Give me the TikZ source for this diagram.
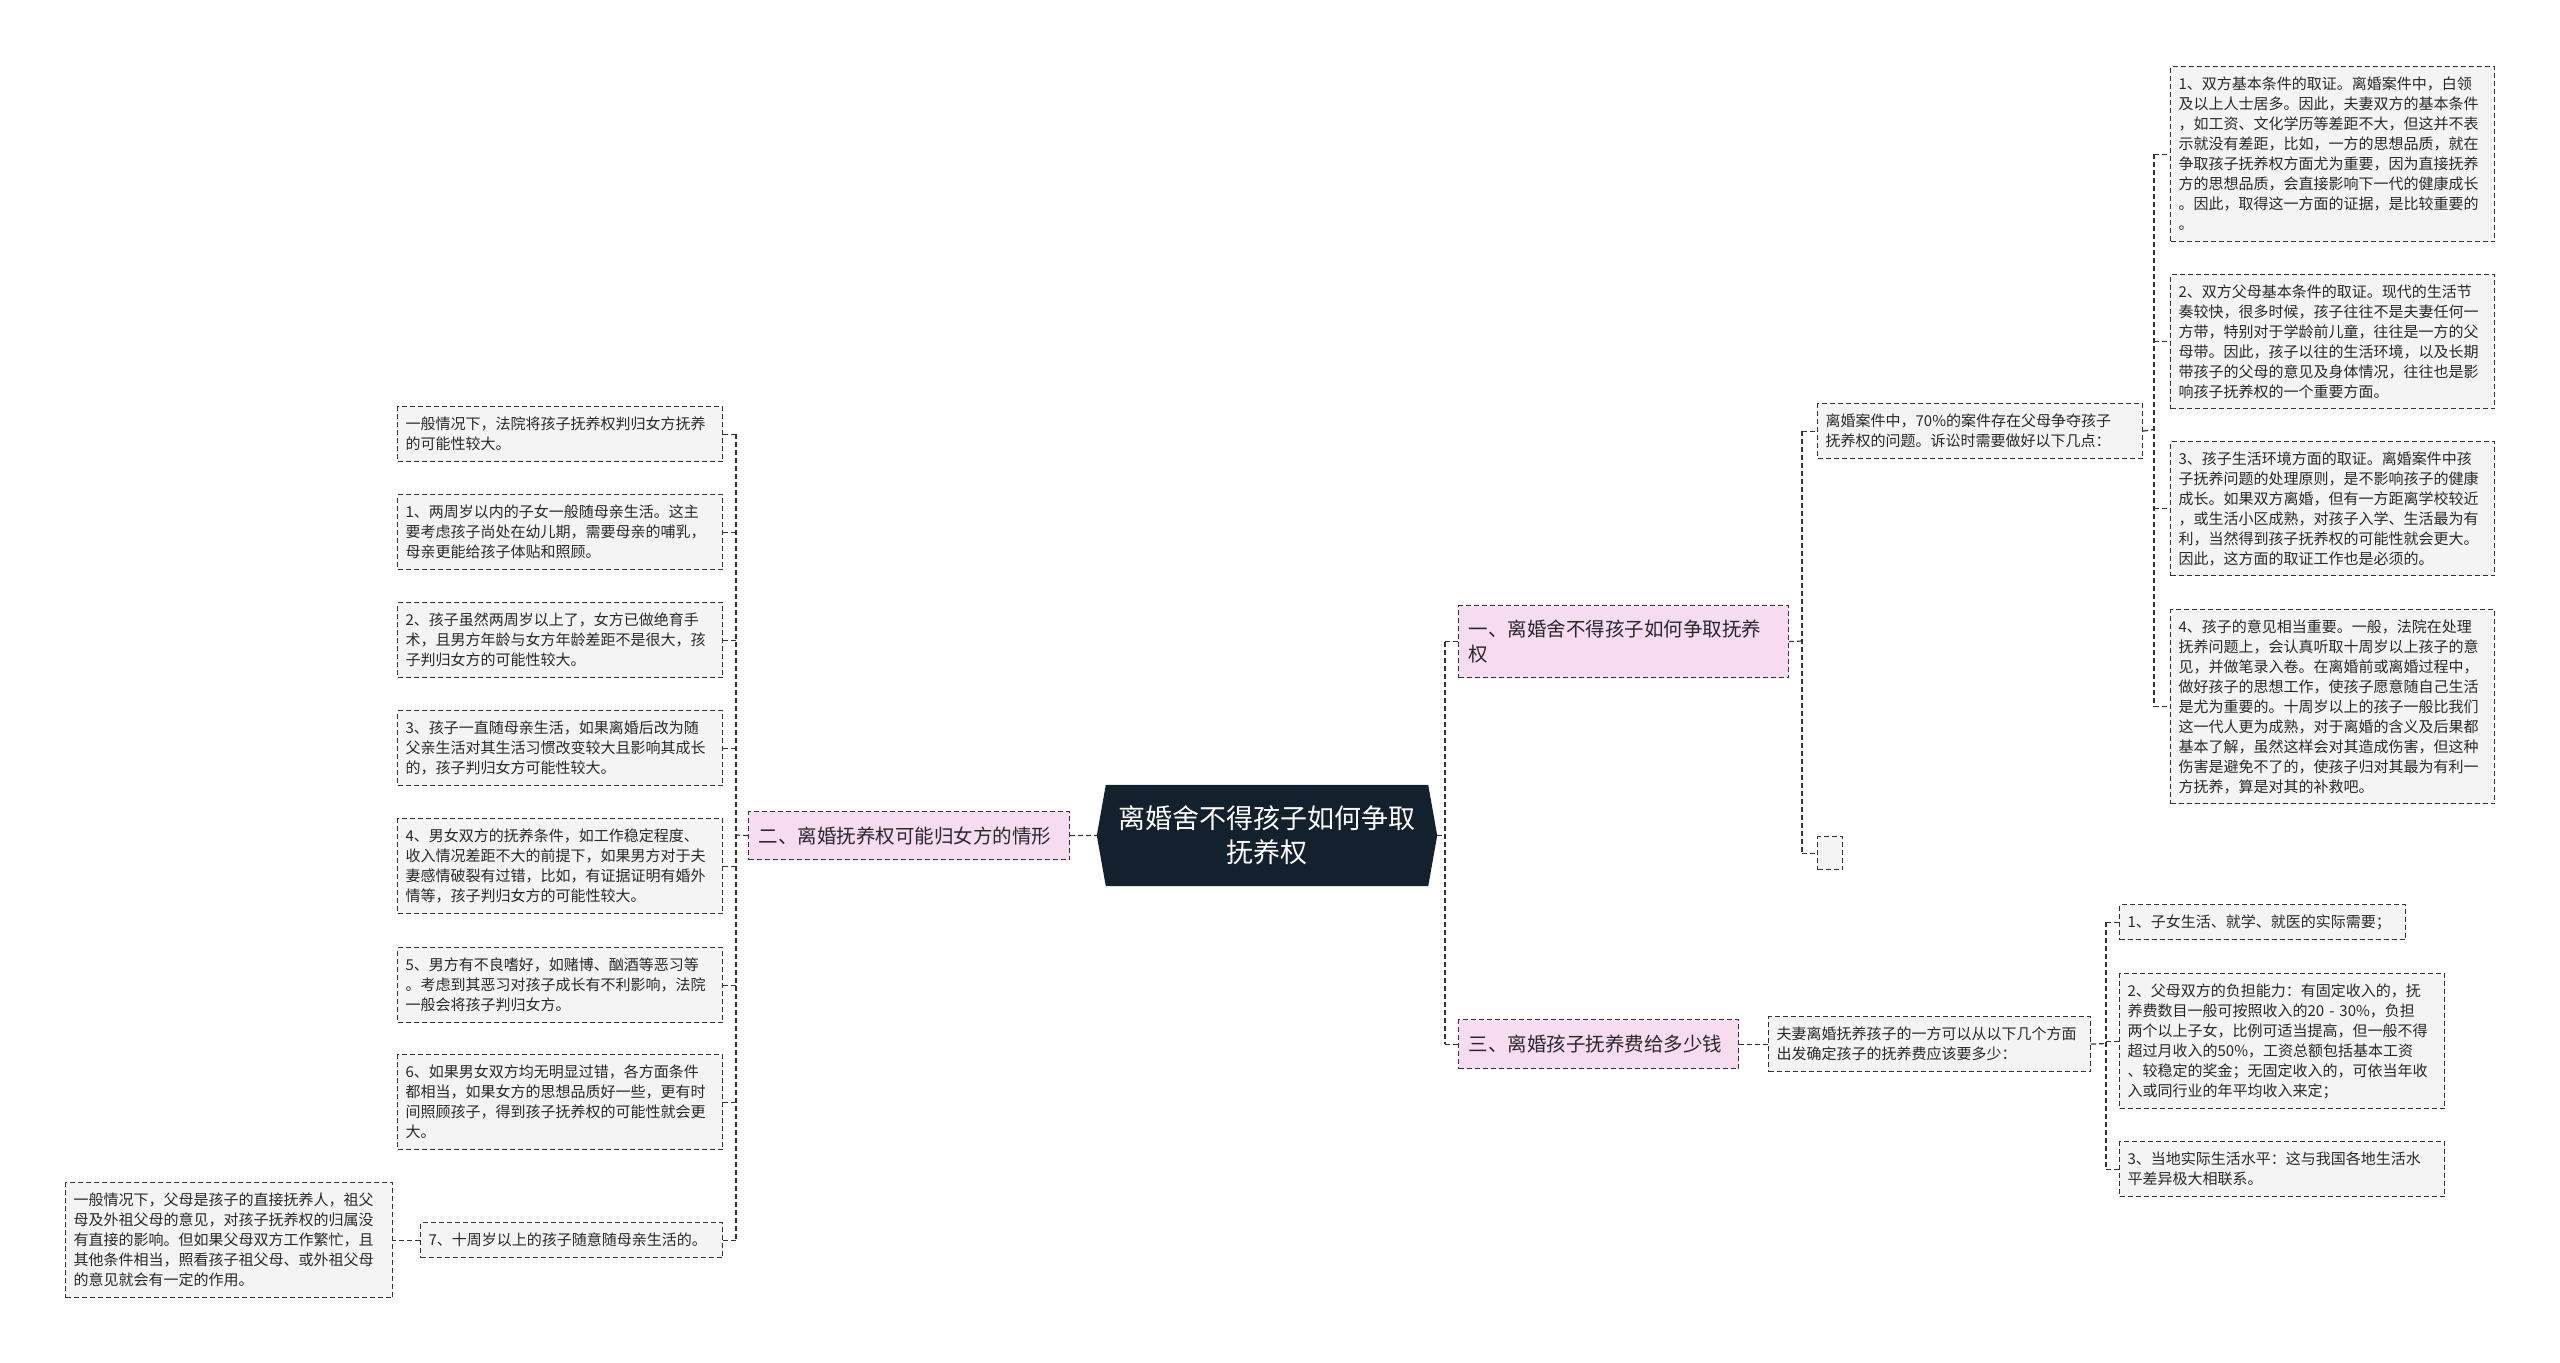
\documentclass[tikz,border=0pt]{standalone}
\usepackage{fontspec}
\setmainfont{Noto Sans CJK SC}
\usetikzlibrary{backgrounds,calc}
\definecolor{boxfill}{RGB}{244,244,244}
\definecolor{pinkfill}{RGB}{247,219,240}
\definecolor{darkc}{RGB}{19,32,46}
\definecolor{linec}{RGB}{51,51,51}
\definecolor{textc}{RGB}{40,40,40}
\begin{document}
\begin{tikzpicture}[x=1pt,y=-1pt,
  leaf/.style={draw=linec, fill=boxfill, dash pattern=on 5pt off 3pt, line width=1.2pt,
    anchor=north west, inner xsep=8pt, inner ysep=0pt, align=left,
    font=\fontsize{15}{20}\selectfont, text=textc},
  branch/.style={draw=linec, fill=pinkfill, dash pattern=on 5pt off 3pt, line width=1.2pt,
    anchor=north west, inner xsep=10pt, inner ysep=0pt, align=left,
    font=\fontsize{19.5}{25}\selectfont, text=textc},
  rootnode/.style={inner sep=0pt, minimum width=322pt, minimum height=101pt, align=center,
    font=\fontsize{27}{34}\selectfont, text=white},
  conn/.style={draw=linec, line width=1.2pt, dash pattern=on 5pt off 3pt}]
\useasboundingbox (0,0) rectangle (2560,1363);

% root
\node[rootnode] (root) at (1267,835.5) {离婚舍不得孩子如何争取\\抚养权};
\coordinate (rootL) at ($(root.west)+(-9,0)$);
\coordinate (rootR) at ($(root.east)+(9,0)$);

% branches
\node[branch, text width=301pt, minimum height=48pt] (b2) at (748,811) {二、离婚抚养权可能归女方的情形};
\node[branch, text width=310pt, minimum height=72pt] (b1) at (1458,605) {一、离婚舍不得孩子如何争取抚养\\权};
\node[branch, text width=260pt, minimum height=49pt] (b3) at (1458,1019) {三、离婚孩子抚养费给多少钱};

% left leaves
\node[leaf, text width=309pt, minimum height=55pt] (l1) at (397,406) {一般情况下，法院将孩子抚养权判归女方抚养\\的可能性较大。};
\node[leaf, text width=309pt, minimum height=75pt] (l2) at (397,494) {1、两周岁以内的子女一般随母亲生活。这主\\要考虑孩子尚处在幼儿期，需要母亲的哺乳，\\母亲更能给孩子体贴和照顾。};
\node[leaf, text width=309pt, minimum height=75pt] (l3) at (397,602) {2、孩子虽然两周岁以上了，女方已做绝育手\\术，且男方年龄与女方年龄差距不是很大，孩\\子判归女方的可能性较大。};
\node[leaf, text width=309pt, minimum height=75pt] (l4) at (397,710) {3、孩子一直随母亲生活，如果离婚后改为随\\父亲生活对其生活习惯改变较大且影响其成长\\的，孩子判归女方可能性较大。};
\node[leaf, text width=309pt, minimum height=95pt] (l5) at (397,818) {4、男女双方的抚养条件，如工作稳定程度、\\收入情况差距不大的前提下，如果男方对于夫\\妻感情破裂有过错，比如，有证据证明有婚外\\情等，孩子判归女方的可能性较大。};
\node[leaf, text width=309pt, minimum height=75pt] (l6) at (397,947) {5、男方有不良嗜好，如赌博、酗酒等恶习等\\。考虑到其恶习对孩子成长有不利影响，法院\\一般会将孩子判归女方。};
\node[leaf, text width=309pt, minimum height=95pt] (l7) at (397,1054) {6、如果男女双方均无明显过错，各方面条件\\都相当，如果女方的思想品质好一些，更有时\\间照顾孩子，得到孩子抚养权的可能性就会更\\大。};
\node[leaf, text width=286pt, minimum height=35pt] (l8) at (420,1222) {7、十周岁以上的孩子随意随母亲生活的。};
\node[leaf, text width=311pt, minimum height=115pt] (l8c) at (65,1182) {一般情况下，父母是孩子的直接抚养人，祖父\\母及外祖父母的意见，对孩子抚养权的归属没\\有直接的影响。但如果父母双方工作繁忙，且\\其他条件相当，照看孩子祖父母、或外祖父母\\的意见就会有一定的作用。};

% right: branch one
\node[leaf, text width=309pt, minimum height=55pt] (ca) at (1817,403) {离婚案件中，70\%的案件存在父母争夺孩子\\抚养权的问题。诉讼时需要做好以下几点：};
\node[leaf, minimum width=25pt, minimum height=33pt, inner xsep=0pt] (ce) at (1817,836) {};
\node[leaf, text width=308pt, minimum height=175pt] (a1) at (2170,66) {1、双方基本条件的取证。离婚案件中，白领\\及以上人士居多。因此，夫妻双方的基本条件\\，如工资、文化学历等差距不大，但这并不表\\示就没有差距，比如，一方的思想品质，就在\\争取孩子抚养权方面尤为重要，因为直接抚养\\方的思想品质，会直接影响下一代的健康成长\\。因此，取得这一方面的证据，是比较重要的\\。};
\node[leaf, text width=308pt, minimum height=134pt] (a2) at (2170,274) {2、双方父母基本条件的取证。现代的生活节\\奏较快，很多时候，孩子往往不是夫妻任何一\\方带，特别对于学龄前儿童，往往是一方的父\\母带。因此，孩子以往的生活环境，以及长期\\带孩子的父母的意见及身体情况，往往也是影\\响孩子抚养权的一个重要方面。};
\node[leaf, text width=308pt, minimum height=134pt] (a3) at (2170,441) {3、孩子生活环境方面的取证。离婚案件中孩\\子抚养问题的处理原则，是不影响孩子的健康\\成长。如果双方离婚，但有一方距离学校较近\\，或生活小区成熟，对孩子入学、生活最为有\\利，当然得到孩子抚养权的可能性就会更大。\\因此，这方面的取证工作也是必须的。};
\node[leaf, text width=308pt, minimum height=194pt] (a4) at (2170,609) {4、孩子的意见相当重要。一般，法院在处理\\抚养问题上，会认真听取十周岁以上孩子的意\\见，并做笔录入卷。在离婚前或离婚过程中，\\做好孩子的思想工作，使孩子愿意随自己生活\\是尤为重要的。十周岁以上的孩子一般比我们\\这一代人更为成熟，对于离婚的含义及后果都\\基本了解，虽然这样会对其造成伤害，但这种\\伤害是避免不了的，使孩子归对其最为有利一\\方抚养，算是对其的补救吧。};

% right: branch three
\node[leaf, text width=306pt, minimum height=55pt] (c0) at (1768,1016) {夫妻离婚抚养孩子的一方可以从以下几个方面\\出发确定孩子的抚养费应该要多少：};
\node[leaf, text width=270pt, minimum height=35pt] (c1) at (2119,904) {1、子女生活、就学、就医的实际需要；};
\node[leaf, text width=309pt, minimum height=135pt] (c2) at (2119,973) {2、父母双方的负担能力：有固定收入的，抚\\养费数目一般可按照收入的20 - 30\%，负担\\两个以上子女，比例可适当提高，但一般不得\\超过月收入的50\%，工资总额包括基本工资\\、较稳定的奖金；无固定收入的，可依当年收\\入或同行业的年平均收入来定；};
\node[leaf, text width=309pt, minimum height=55pt] (c3) at (2119,1141) {3、当地实际生活水平：这与我国各地生活水\\平差异极大相联系。};

% background layer: white page and root shape
\begin{scope}[on background layer]
  \fill[white] (0,0) rectangle (2560,1363);
  \fill[darkc] (root.north west) -- (root.north east) -- (rootR) -- (root.south east)
    -- (root.south west) -- (rootL) -- cycle;
\end{scope}

% spine coordinates
\coordinate (s0) at (1445,835.5);
\coordinate (s2) at (736,835);
\coordinate (s1) at (1802,641);
\coordinate (sa) at (2154,429.5);
\coordinate (sc) at (2106,1043.5);

% root connectors
\draw[conn] (b2.east) -- (rootL);
\draw[conn] (rootR) -- (s0);
\draw[conn] (s0 |- b1.west) -- (s0 |- b3.west);
\draw[conn] (s0 |- b1.west) -- (b1.west);
\draw[conn] (s0 |- b3.west) -- (b3.west);

% branch two
\draw[conn] (b2.west) -- (s2);
\draw[conn] (s2 |- l1.east) -- (s2 |- l8.east);
\foreach \n in {l1,l2,l3,l4,l5,l6,l7,l8}{
  \draw[conn] (s2 |- \n.east) -- (\n.east);
}
\draw[conn] (l8.west) -- (l8c.east);

% branch one
\draw[conn] (b1.east) -- (s1);
\draw[conn] (s1 |- ca.west) -- (s1 |- ce.west);
\draw[conn] (s1 |- ca.west) -- (ca.west);
\draw[conn] (s1 |- ce.west) -- (ce.west);
\draw[conn] (ca.east) -- (sa);
\draw[conn] (sa |- a1.west) -- (sa |- a4.west);
\foreach \n in {a1,a2,a3,a4}{
  \draw[conn] (sa |- \n.west) -- (\n.west);
}

% branch three
\draw[conn] (b3.east) -- (c0.west);
\draw[conn] (c0.east) -- (sc);
\draw[conn] (sc |- c1.west) -- (sc |- c3.west);
\foreach \n in {c1,c2,c3}{
  \draw[conn] (sc |- \n.west) -- (\n.west);
}
\end{tikzpicture}
\end{document}
